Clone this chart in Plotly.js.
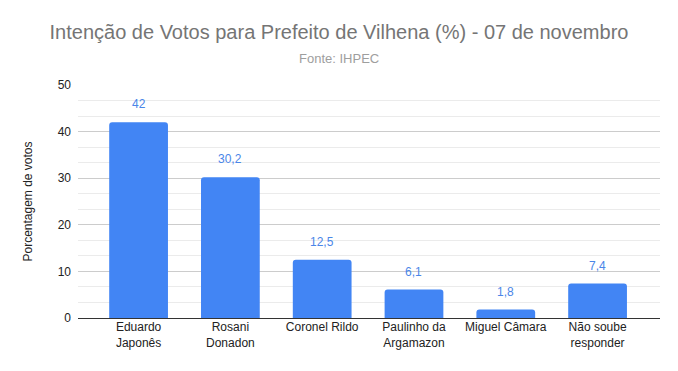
<!DOCTYPE html>
<html>
<head>
<meta charset="utf-8">
<script src="https://cdn.plot.ly/plotly-3.0.1.min.js"></script>
<style>html,body{margin:0;padding:0;background:#fff}#chart{width:678px;height:371px}</style>
</head>
<body>
<div id="chart"></div>
<script>
const categories = ["Eduardo<br>Japonês", "Rosani<br>Donadon", "Coronel Rildo", "Paulinho da<br>Argamazon", "Miguel Câmara", "Não soube<br>responder"];
const values = [42, 30.2, 12.5, 6.1, 1.8, 7.4];
const yTicks = [0, 10, 20, 30, 40, 50];

const labels = values.map(v => String(v).replace('.', ','));
const font = "Liberation Sans, Arial, sans-serif";

const data = [{
  type: 'bar',
  x: categories,
  y: values,
  marker: {color: '#4285F4', cornerradius: 3},
  hoverinfo: 'none'
}];

const annotations = values.map((v, i) => ({
  x: categories[i], y: v, xref: 'x', yref: 'y',
  text: labels[i], showarrow: false, yanchor: 'bottom', yshift: 9,
  font: {family: font, size: 12, color: '#4a86e8'}
}));
annotations.push({
  xref: 'paper', yref: 'paper', x: 0.448, y: 1, xanchor: 'center', yanchor: 'bottom',
  yshift: 17, showarrow: false, text: 'Fonte: IHPEC',
  font: {family: font, size: 13, color: '#9e9e9e'}
});

const layout = {
  width: 678, height: 371,
  margin: {l: 78, r: 18, t: 85, b: 53},
  paper_bgcolor: '#fff', plot_bgcolor: '#fff',
  title: {text: 'Intenção de Votos para Prefeito de Vilhena (%) - 07 de novembro',
    font: {family: font, size: 20, color: '#757575'}, x: 0.5, xanchor: 'center', y: 0.913, yanchor: 'middle'},
  bargap: 0.36,
  showlegend: false,
  xaxis: {
    type: 'category', range: [-0.66, 5.68], showgrid: false, zeroline: false,
    showline: false, ticks: '', tickfont: {family: font, size: 12, color: '#222'}, fixedrange: true
  },
  yaxis: {
    range: [0, 50], tickvals: yTicks, ticktext: yTicks.map(String),
    showgrid: true, gridcolor: '#cccccc', gridwidth: 1,
    minor: {tick0: 0, dtick: 10/3, showgrid: true, gridcolor: '#ebebeb', gridwidth: 1},
    zeroline: true, zerolinecolor: '#333', zerolinewidth: 1,
    tickfont: {family: font, size: 12, color: '#222'}, ticks: '', ticklabelstandoff: 6,
    title: {text: 'Porcentagem de votos', font: {family: font, size: 12, color: '#222'}, standoff: 22},
    fixedrange: true
  },
  annotations: annotations
};

Plotly.newPlot('chart', data, layout, {displayModeBar: false, staticPlot: true});
</script>
</body>
</html>
